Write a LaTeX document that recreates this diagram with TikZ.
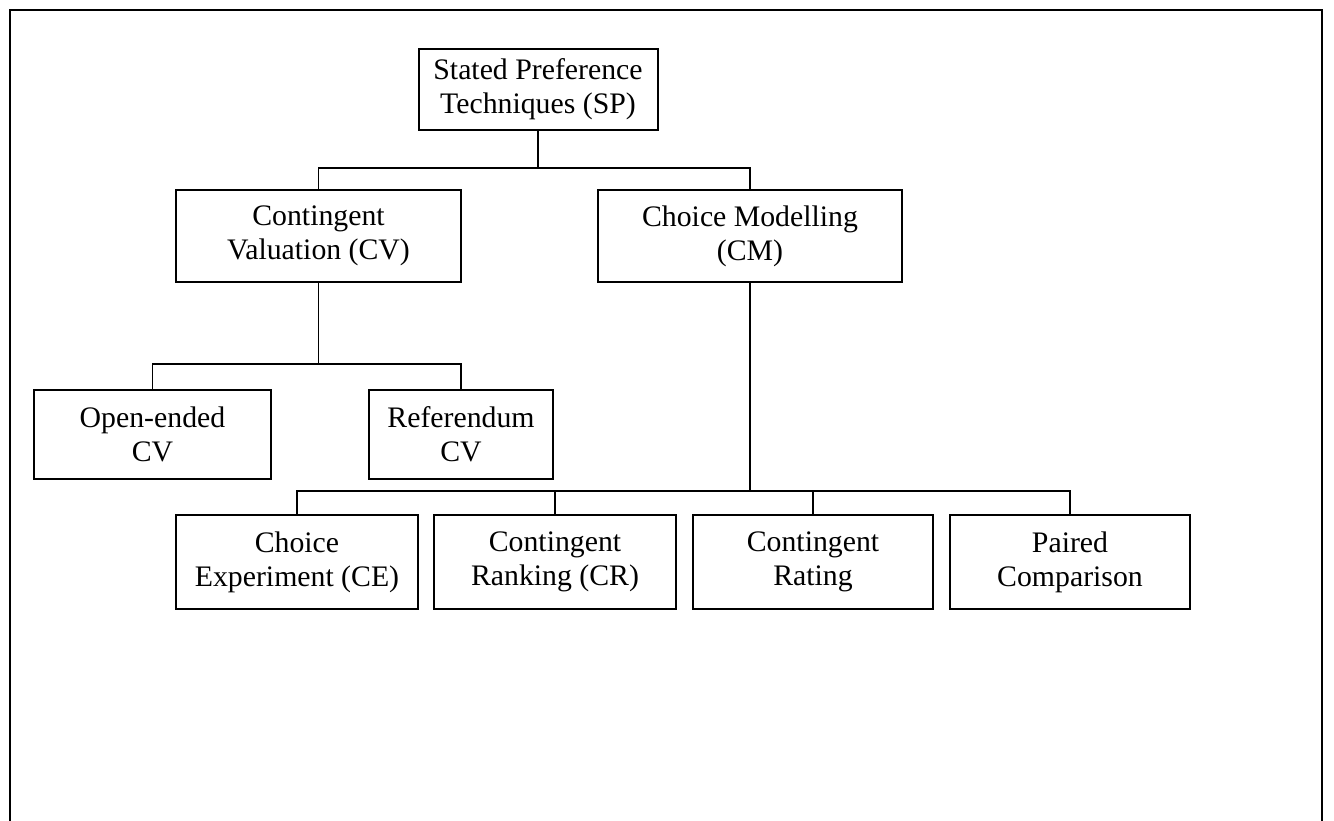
\documentclass[tikz,border=0pt]{standalone}
\usepackage{fontspec}
\setmainfont{Liberation Serif}
\usetikzlibrary{positioning}

% one pixel of the page in pt
\newcommand{\pxu}{0.403pt}

\tikzset{
  techbox/.style={draw, line width=0.8pt, align=center, inner sep=0pt,
    font=\fontsize{12}{13.8}\selectfont},
  link/.style={line width=0.8pt}
}

\begin{document}
\begin{tikzpicture}[x=\pxu,y=-\pxu]
  \useasboundingbox (0,0) rectangle (1334,820);
  \clip (0,0) rectangle (1334,820);
  % outer frame
  \draw[link] (10,840) |- (1322,10) -- (1322,840);

  % top level
  \node[techbox, minimum width=239*\pxu, minimum height=81*\pxu] (sp) at (538,89.5)
    {Stated Preference\\Techniques (SP)};

  % second level
  \node[techbox, minimum width=285*\pxu, minimum height=92*\pxu] (cv) at (318.5,236)
    {Contingent\\Valuation (CV)};
  \node[techbox, minimum width=304*\pxu, minimum height=92*\pxu] (cm) at (750,236)
    {Choice Modelling\\(CM)};

  % contingent valuation formats
  \node[techbox, minimum width=237*\pxu, minimum height=89*\pxu] (openv) at (152.5,434.5)
    {Open-ended\\CV};
  \node[techbox, minimum width=184*\pxu, minimum height=89*\pxu] (refv) at (461,434.5)
    {Referendum\\CV};

  % choice modelling formats
  \node[techbox, minimum width=242*\pxu, minimum height=94*\pxu] (ce) at (297,562)
    {Choice\\Experiment (CE)};
  \node[techbox, minimum width=242*\pxu, minimum height=94*\pxu] (cr) at (555,562)
    {Contingent\\Ranking (CR)};
  \node[techbox, minimum width=240*\pxu, minimum height=94*\pxu] (crate) at (813,562)
    {Contingent\\Rating};
  \node[techbox, minimum width=240*\pxu, minimum height=94*\pxu] (pc) at (1070,562)
    {Paired\\Comparison};

  % tree lines
  \path (sp.south) ++(0,37) coordinate (busa);
  \path (cv.south) ++(0,81) coordinate (busb);
  \path (cm.south) ++(0,208) coordinate (busc);

  \draw[link] (sp.south) -- (busa);
  \draw[link] (cv.north) |- (busa) -| (cm.north);

  \draw[link] (cv.south) -- (busb);
  \draw[link] (openv.north) |- (busb) -| (refv.north);

  \draw[link] (cm.south) -- (busc);
  \draw[link] (ce.north) |- (busc) -| (pc.north);
  \draw[link] (cr.north) -- (cr.north |- busc);
  \draw[link] (crate.north) -- (crate.north |- busc);
\end{tikzpicture}
\end{document}
